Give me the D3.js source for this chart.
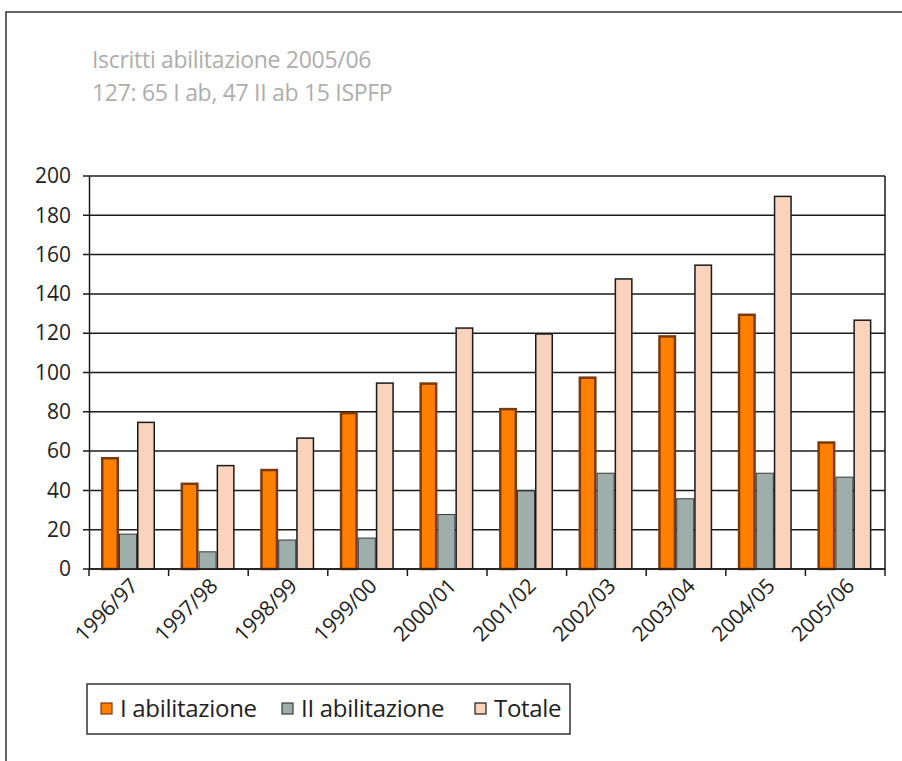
<html lang="it">
<head>
  <meta charset="UTF-8">
  <title>Iscritti abilitazione</title>
  <style>
    body { margin: 0; background: #fff; }
    text { font-family: "Open Sans", sans-serif; }
  </style>
</head>
<body>
  <div class="svg-target"></div>
  <script src="https://d3js.org/d3.v7.min.js"></script>
  <script>
    const w = 902;
    const h = 761;

    const years = ["1996/97", "1997/98", "1998/99", "1999/00", "2000/01",
      "2001/02", "2002/03", "2003/04", "2004/05", "2005/06"];
    const primaAb = [57, 44, 51, 80, 95, 82, 98, 119, 130, 65];
    const secondaAb = [18, 9, 15, 16, 28, 40, 49, 36, 49, 47];
    const totale = [75, 53, 67, 95, 123, 120, 148, 155, 190, 127];
    const yTicks = [0, 20, 40, 60, 80, 100, 120, 140, 160, 180, 200];
    const titleLines = ["Iscritti abilitazione 2005/06", "127: 65 I ab, 47 II ab 15 ISPFP"];

    const series = [
      { name: "I abilitazione", values: primaAb, fill: "#ff7f00", stroke: "#7a3a10", sw: 2.5 },
      { name: "II abilitazione", values: secondaAb, fill: "#9eaeab", stroke: "#3a3a3a", sw: 1 },
      { name: "Totale", values: totale, fill: "#f9d3bb", stroke: "#1a1a1a", sw: 1.5 }
    ];

    const svg = d3.select("div.svg-target")
      .append("svg")
      .attr("width", w)
      .attr("height", h);

    // outer frame (only top and left visible)
    svg.append("rect")
      .attr("x", 6).attr("y", 12)
      .attr("width", 1000).attr("height", 1000)
      .attr("fill", "none")
      .attr("stroke", "#333")
      .attr("stroke-width", 1.5);

    // title
    svg.selectAll("text.title")
      .data(titleLines)
      .enter()
      .append("text")
      .attr("class", "title")
      .attr("x", 92)
      .attr("y", (d, i) => 68 + i * 33)
      .attr("font-size", 23)
      .attr("letter-spacing", -0.3)
      .attr("fill", "#adadad")
      .text(d => d);

    const plotLeft = 89, plotRight = 885, plotTop = 176, plotBottom = 569;

    const xScale = d3.scaleBand()
      .domain(years)
      .range([plotLeft, plotRight]);

    const inner = d3.scaleBand()
      .domain(series.map(s => s.name))
      .range([12, 66]);

    const yScale = d3.scaleLinear()
      .domain([0, 200])
      .range([plotBottom, plotTop]);

    // gridlines
    svg.append("g")
      .selectAll("line")
      .data(yTicks)
      .enter()
      .append("line")
      .attr("x1", plotLeft - 6)
      .attr("x2", plotRight)
      .attr("y1", d => yScale(d))
      .attr("y2", d => yScale(d))
      .attr("stroke", "#1a1a1a")
      .attr("stroke-width", 1.5);

    // right border
    svg.append("line")
      .attr("x1", plotRight).attr("x2", plotRight)
      .attr("y1", plotTop).attr("y2", plotBottom)
      .attr("stroke", "#1a1a1a")
      .attr("stroke-width", 1.5);

    // bars
    series.forEach(s => {
      svg.append("g")
        .selectAll("rect")
        .data(years)
        .enter()
        .append("rect")
        .attr("x", (d) => xScale(d) + inner(s.name) + s.sw / 2)
        .attr("y", (d, i) => yScale(s.values[i]) + s.sw / 2)
        .attr("width", inner.bandwidth() - s.sw)
        .attr("height", (d, i) => plotBottom - yScale(s.values[i]) - s.sw / 2)
        .attr("fill", s.fill)
        .attr("stroke", s.stroke)
        .attr("stroke-width", s.sw);
    });

    // y axis
    const yAxis = d3.axisLeft(yScale)
      .tickValues(yTicks)
      .tickSize(0)
      .tickPadding(18);
    const yg = svg.append("g")
      .attr("transform", "translate(" + plotLeft + ",0)")
      .call(yAxis);
    yg.select(".domain").attr("stroke", "#1a1a1a").attr("stroke-width", 1.5);
    yg.selectAll("text")
      .attr("font-size", 21)
      .attr("fill", "#1e1e1e")
      .attr("font-family", "Open Sans, sans-serif");

    // x axis
    svg.append("line")
      .attr("x1", plotLeft).attr("x2", plotRight)
      .attr("y1", plotBottom).attr("y2", plotBottom)
      .attr("stroke", "#1a1a1a").attr("stroke-width", 1.5);
    svg.append("g")
      .selectAll("line")
      .data(years.concat(["end"]))
      .enter()
      .append("line")
      .attr("x1", (d, i) => i < years.length ? xScale(d) : plotRight)
      .attr("x2", (d, i) => i < years.length ? xScale(d) : plotRight)
      .attr("y1", plotBottom)
      .attr("y2", plotBottom + 7)
      .attr("stroke", "#1a1a1a")
      .attr("stroke-width", 1.5);

    svg.append("g")
      .selectAll("text")
      .data(years)
      .enter()
      .append("text")
      .attr("transform", d => "translate(" + (xScale(d) + xScale.bandwidth() / 2) + "," + (plotBottom + 8) + ") rotate(-45)")
      .attr("text-anchor", "end")
      .attr("dy", "0.7em")
      .attr("font-size", 21)
      .attr("letter-spacing", -0.2)
      .attr("fill", "#1e1e1e")
      .text(d => d);

    // legend
    const lg = svg.append("g");
    lg.append("rect")
      .attr("x", 87).attr("y", 684)
      .attr("width", 483).attr("height", 50)
      .attr("fill", "#fff")
      .attr("stroke", "#333")
      .attr("stroke-width", 1.5);
    const legendX = [101, 282, 475];
    series.forEach((s, i) => {
      lg.append("rect")
        .attr("x", legendX[i]).attr("y", 703)
        .attr("width", 11).attr("height", 11)
        .attr("fill", s.fill)
        .attr("stroke", s.stroke)
        .attr("stroke-width", 1.2);
      lg.append("text")
        .attr("x", legendX[i] + 19)
        .attr("y", 717)
        .attr("font-size", 24)
        .attr("letter-spacing", -0.3)
        .attr("fill", "#1e1e1e")
        .text(s.name);
    });
  </script>
</body>
</html>
